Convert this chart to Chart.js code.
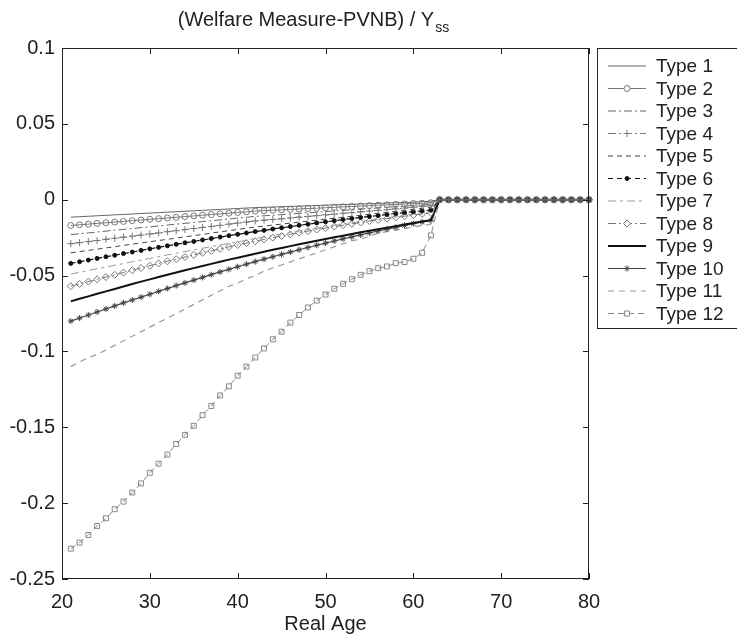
<!DOCTYPE html>
<html>
<head>
<meta charset="utf-8">
<script src="https://cdn.jsdelivr.net/npm/chart.js@4.4.0/dist/chart.umd.min.js"></script>
<style>
  html, body { margin: 0; padding: 0; background: #fff; }
</style>
</head>
<body>
<canvas id="welfareChart" width="737" height="636"></canvas>
<script>
// Real age, one point per year
const ages = [21,22,23,24,25,26,27,28,29,30,
              31,32,33,34,35,36,37,38,39,40,
              41,42,43,44,45,46,47,48,49,50,
              51,52,53,54,55,56,57,58,59,60,
              61,62,63,64,65,66,67,68,69,70,
              71,72,73,74,75,76,77,78,79,80];

const xTicks = [20, 30, 40, 50, 60, 70, 80];
const yTicks = [-0.25, -0.2, -0.15, -0.1, -0.05, 0, 0.05, 0.1];
const yTickLabels = ['-0.25', '-0.2', '-0.15', '-0.1', '-0.05', '0', '0.05', '0.1'];

const typeNames = ['Type 1','Type 2','Type 3','Type 4','Type 5','Type 6',
                   'Type 7','Type 8','Type 9','Type 10','Type 11','Type 12'];

// (Welfare Measure - PVNB) / Yss
const type1 = [-0.0115,-0.0112,-0.0109,-0.0106,-0.0103,-0.0100,-0.0097,-0.0094,-0.0091,-0.0088,
               -0.0085,-0.0082,-0.0079,-0.0076,-0.0073,-0.0070,-0.0067,-0.0064,-0.0061,-0.0058,
               -0.0055,-0.0052,-0.0050,-0.0048,-0.0046,-0.0044,-0.0042,-0.0040,-0.0038,-0.0036,
               -0.0034,-0.0032,-0.0030,-0.0028,-0.0026,-0.0024,-0.0022,-0.0020,-0.0018,-0.0016,
               -0.0013,-0.0010,0,0,0,0,0,0,0,0,
               0,0,0,0,0,0,0,0,0,0];
const type2 = [-0.0170,-0.0165,-0.0161,-0.0156,-0.0152,-0.0147,-0.0143,-0.0138,-0.0134,-0.0129,
               -0.0125,-0.0120,-0.0116,-0.0111,-0.0107,-0.0102,-0.0098,-0.0093,-0.0089,-0.0084,
               -0.0080,-0.0075,-0.0072,-0.0069,-0.0067,-0.0064,-0.0061,-0.0058,-0.0056,-0.0053,
               -0.0050,-0.0047,-0.0045,-0.0042,-0.0039,-0.0036,-0.0034,-0.0031,-0.0028,-0.0025,
               -0.0023,-0.0020,0,0,0,0,0,0,0,0,
               0,0,0,0,0,0,0,0,0,0];
const type3 = [-0.0230,-0.0224,-0.0219,-0.0213,-0.0207,-0.0201,-0.0196,-0.0190,-0.0184,-0.0179,
               -0.0173,-0.0167,-0.0161,-0.0156,-0.0150,-0.0144,-0.0139,-0.0133,-0.0127,-0.0121,
               -0.0116,-0.0110,-0.0106,-0.0102,-0.0098,-0.0094,-0.0090,-0.0086,-0.0082,-0.0078,
               -0.0074,-0.0070,-0.0066,-0.0062,-0.0058,-0.0054,-0.0050,-0.0046,-0.0042,-0.0038,
               -0.0034,-0.0030,0,0,0,0,0,0,0,0,
               0,0,0,0,0,0,0,0,0,0];
const type4 = [-0.0290,-0.0283,-0.0276,-0.0269,-0.0261,-0.0254,-0.0247,-0.0240,-0.0233,-0.0226,
               -0.0219,-0.0211,-0.0204,-0.0197,-0.0190,-0.0183,-0.0176,-0.0169,-0.0161,-0.0154,
               -0.0147,-0.0140,-0.0135,-0.0130,-0.0125,-0.0120,-0.0115,-0.0110,-0.0105,-0.0100,
               -0.0095,-0.0090,-0.0085,-0.0080,-0.0075,-0.0070,-0.0065,-0.0060,-0.0055,-0.0050,
               -0.0045,-0.0040,0,0,0,0,0,0,0,0,
               0,0,0,0,0,0,0,0,0,0];
const type5 = [-0.0350,-0.0342,-0.0334,-0.0326,-0.0318,-0.0310,-0.0301,-0.0293,-0.0285,-0.0277,
               -0.0269,-0.0261,-0.0253,-0.0245,-0.0237,-0.0229,-0.0220,-0.0212,-0.0204,-0.0196,
               -0.0188,-0.0180,-0.0174,-0.0167,-0.0161,-0.0154,-0.0148,-0.0141,-0.0135,-0.0128,
               -0.0122,-0.0115,-0.0109,-0.0102,-0.0096,-0.0089,-0.0083,-0.0076,-0.0070,-0.0063,
               -0.0057,-0.0050,0,0,0,0,0,0,0,0,
               0,0,0,0,0,0,0,0,0,0];
const type6 = [-0.0420,-0.0409,-0.0398,-0.0387,-0.0376,-0.0366,-0.0355,-0.0345,-0.0334,-0.0324,
               -0.0314,-0.0304,-0.0294,-0.0284,-0.0275,-0.0265,-0.0256,-0.0246,-0.0237,-0.0228,
               -0.0219,-0.0210,-0.0202,-0.0193,-0.0185,-0.0177,-0.0169,-0.0161,-0.0153,-0.0146,
               -0.0138,-0.0131,-0.0124,-0.0117,-0.0110,-0.0104,-0.0097,-0.0091,-0.0085,-0.0079,
               -0.0073,-0.0068,0,0,0,0,0,0,0,0,
               0,0,0,0,0,0,0,0,0,0];
const type7 = [-0.0490,-0.0478,-0.0467,-0.0455,-0.0444,-0.0432,-0.0421,-0.0409,-0.0398,-0.0387,
               -0.0375,-0.0364,-0.0353,-0.0342,-0.0331,-0.0320,-0.0309,-0.0298,-0.0288,-0.0277,
               -0.0267,-0.0256,-0.0246,-0.0236,-0.0226,-0.0216,-0.0207,-0.0197,-0.0188,-0.0179,
               -0.0170,-0.0161,-0.0152,-0.0144,-0.0136,-0.0127,-0.0119,-0.0111,-0.0103,-0.0095,
               -0.0087,-0.0080,0,0,0,0,0,0,0,0,
               0,0,0,0,0,0,0,0,0,0];
const type8 = [-0.0570,-0.0555,-0.0540,-0.0525,-0.0510,-0.0495,-0.0480,-0.0465,-0.0450,-0.0435,
               -0.0420,-0.0406,-0.0392,-0.0378,-0.0364,-0.0350,-0.0337,-0.0324,-0.0311,-0.0298,
               -0.0286,-0.0274,-0.0262,-0.0250,-0.0239,-0.0228,-0.0217,-0.0207,-0.0197,-0.0187,
               -0.0177,-0.0168,-0.0159,-0.0150,-0.0141,-0.0133,-0.0125,-0.0117,-0.0109,-0.0101,
               -0.0094,-0.0087,0,0,0,0,0,0,0,0,
               0,0,0,0,0,0,0,0,0,0];
const type9 = [-0.0670,-0.0653,-0.0637,-0.0620,-0.0604,-0.0588,-0.0572,-0.0556,-0.0540,-0.0525,
               -0.0510,-0.0495,-0.0480,-0.0465,-0.0451,-0.0437,-0.0423,-0.0409,-0.0395,-0.0382,
               -0.0369,-0.0356,-0.0343,-0.0330,-0.0318,-0.0306,-0.0294,-0.0282,-0.0270,-0.0259,
               -0.0248,-0.0237,-0.0226,-0.0215,-0.0205,-0.0194,-0.0184,-0.0174,-0.0164,-0.0154,
               -0.0144,-0.0135,0,0,0,0,0,0,0,0,
               0,0,0,0,0,0,0,0,0,0];
const type10 = [-0.0800,-0.0780,-0.0760,-0.0740,-0.0720,-0.0700,-0.0680,-0.0661,-0.0642,-0.0623,
                -0.0604,-0.0585,-0.0566,-0.0548,-0.0530,-0.0512,-0.0494,-0.0476,-0.0459,-0.0442,
                -0.0425,-0.0408,-0.0392,-0.0376,-0.0360,-0.0345,-0.0330,-0.0315,-0.0300,-0.0286,
                -0.0272,-0.0258,-0.0245,-0.0232,-0.0219,-0.0206,-0.0194,-0.0182,-0.0170,-0.0158,
                -0.0147,-0.0136,0,0,0,0,0,0,0,0,
                0,0,0,0,0,0,0,0,0,0];
const type11 = [-0.110,-0.107,-0.104,-0.102,-0.099,-0.096,-0.093,-0.090,-0.087,-0.084,
                -0.081,-0.078,-0.075,-0.072,-0.069,-0.066,-0.063,-0.060,-0.057,-0.055,
                -0.052,-0.050,-0.047,-0.045,-0.043,-0.041,-0.039,-0.037,-0.035,-0.033,
                -0.031,-0.029,-0.027,-0.026,-0.024,-0.022,-0.021,-0.020,-0.019,-0.018,
                -0.017,-0.016,0,0,0,0,0,0,0,0,
                0,0,0,0,0,0,0,0,0,0];
const type12 = [-0.230,-0.226,-0.221,-0.215,-0.210,-0.204,-0.199,-0.193,-0.187,-0.180,
                -0.174,-0.168,-0.161,-0.155,-0.149,-0.142,-0.136,-0.129,-0.123,-0.116,
                -0.110,-0.104,-0.098,-0.092,-0.087,-0.081,-0.076,-0.071,-0.0665,-0.0625,
                -0.0587,-0.0554,-0.0524,-0.0495,-0.0471,-0.0451,-0.0440,-0.0418,-0.0411,-0.0389,
                -0.035,-0.0235,0,0,0,0,0,0,0,0,
                0,0,0,0,0,0,0,0,0,0];

const typeValues = [type1, type2, type3, type4, type5, type6,
                    type7, type8, type9, type10, type11, type12];

// line look of each type (MATLAB style greyscale)
const typeStyles = [
  { color: '#666', width: 1,   dash: [],          marker: false,     r: 0,   fill: false },
  { color: '#777', width: 1,   dash: [],          marker: 'circle',  r: 3,   fill: false },
  { color: '#666', width: 1,   dash: [8, 3, 2, 3], marker: false,    r: 0,   fill: false },
  { color: '#777', width: 1,   dash: [8, 3, 2, 3], marker: 'cross',  r: 3.5, fill: false },
  { color: '#444', width: 1,   dash: [5, 4],      marker: false,     r: 0,   fill: false },
  { color: '#111', width: 1.2, dash: [5, 4],      marker: 'circle',  r: 2,   fill: true },
  { color: '#999', width: 1,   dash: [8, 4, 3, 4], marker: false,    r: 0,   fill: false },
  { color: '#777', width: 1,   dash: [8, 3, 2, 3], marker: 'rectRot', r: 3.5, fill: false },
  { color: '#111', width: 2,   dash: [],          marker: false,     r: 0,   fill: false },
  { color: '#444', width: 1.2, dash: [],          marker: 'star',    r: 3,   fill: true },
  { color: '#999', width: 1.2, dash: [6, 5],      marker: false,     r: 0,   fill: false },
  { color: '#888', width: 1,   dash: [6, 4],      marker: 'rect',    r: 3.5, fill: false }
];

const FONT = "'Liberation Sans', Arial, Helvetica, sans-serif";
Chart.defaults.font.family = FONT;
Chart.defaults.color = '#222';

const datasets = typeNames.map(function (name, k) {
  const st = typeStyles[k];
  return {
    label: name,
    data: ages.map(function (a, i) { return { x: a, y: typeValues[k][i] }; }),
    borderColor: st.color,
    borderWidth: st.width,
    borderDash: st.dash,
    backgroundColor: st.color,
    pointStyle: st.marker || 'circle',
    pointRadius: st.r,
    pointBorderColor: st.color,
    pointBackgroundColor: st.fill ? st.color : 'rgba(0,0,0,0)',
    pointBorderWidth: 1,
    tension: 0,
    fill: false,
    clip: 6
  };
});

// box, inward ticks, title with subscript and the boxed legend
const matlabFrame = {
  id: 'matlabFrame',
  afterDraw(chart) {
    const ctx = chart.ctx;
    const a = chart.chartArea;
    const xs = chart.scales.x, ys = chart.scales.y;
    ctx.save();
    ctx.strokeStyle = '#222';
    ctx.lineWidth = 1;
    ctx.setLineDash([]);
    ctx.strokeRect(a.left + 0.5, a.top + 0.5, a.right - a.left - 1, a.bottom - a.top - 1);
    const tl = 6;
    ctx.beginPath();
    xTicks.forEach(function (v) {
      const px = Math.round(xs.getPixelForValue(v)) + 0.5;
      ctx.moveTo(px, a.bottom); ctx.lineTo(px, a.bottom - tl);
      ctx.moveTo(px, a.top); ctx.lineTo(px, a.top + tl);
    });
    yTicks.forEach(function (v) {
      const py = Math.round(ys.getPixelForValue(v)) + 0.5;
      ctx.moveTo(a.left, py); ctx.lineTo(a.left + tl, py);
      ctx.moveTo(a.right, py); ctx.lineTo(a.right - tl, py);
    });
    ctx.stroke();

    // title
    ctx.fillStyle = '#222';
    ctx.textBaseline = 'alphabetic';
    ctx.textAlign = 'left';
    ctx.font = '20px ' + FONT;
    const main = '(Welfare Measure-PVNB) / Y';
    const wMain = ctx.measureText(main).width;
    ctx.font = '14px ' + FONT;
    const wSub = ctx.measureText('ss').width;
    const x0 = 313 - (wMain + wSub) / 2;
    ctx.font = '20px ' + FONT;
    ctx.fillText(main, x0, 26);
    ctx.font = '14px ' + FONT;
    ctx.fillText('ss', x0 + wMain + 1, 32);

    // legend
    const lx = 597, ly = 48, lw = 150, lh = 280;
    ctx.fillStyle = '#fff';
    ctx.fillRect(lx, ly, lw, lh);
    ctx.strokeStyle = '#222';
    ctx.strokeRect(lx + 0.5, ly + 0.5, lw, lh);
    ctx.font = '19px ' + FONT;
    ctx.textBaseline = 'middle';
    typeNames.forEach(function (name, k) {
      const st = typeStyles[k];
      const y = 66 + k * 22.5;
      ctx.strokeStyle = st.color;
      ctx.lineWidth = st.width;
      ctx.setLineDash(st.dash);
      ctx.beginPath();
      ctx.moveTo(608, y); ctx.lineTo(646, y);
      ctx.stroke();
      ctx.setLineDash([]);
      if (st.marker) {
        ctx.lineWidth = 1;
        ctx.fillStyle = st.fill ? st.color : '#fff';
        Chart.helpers.drawPoint(ctx, { pointStyle: st.marker, radius: st.r, rotation: 0, borderWidth: 1 }, 627, y);
      }
      ctx.fillStyle = '#222';
      ctx.fillText(name, 656, y + 1);
    });
    ctx.restore();
  }
};

new Chart(document.getElementById('welfareChart').getContext('2d'), {
  type: 'line',
  data: { datasets: datasets },
  options: {
    responsive: false,
    animation: false,
    devicePixelRatio: 1,
    layout: { padding: { left: 0, top: 48, right: 148, bottom: 0 } },
    plugins: {
      legend: { display: false },
      title: { display: false },
      tooltip: { enabled: false }
    },
    scales: {
      x: {
        type: 'linear',
        min: 20,
        max: 80,
        afterBuildTicks: function (s) { s.ticks = xTicks.map(function (v) { return { value: v }; }); },
        afterFit: function (s) { s.height = 57; },
        grid: { display: false, drawTicks: false },
        border: { display: false },
        ticks: { padding: 11, color: '#222', font: { size: 20 }, maxRotation: 0, autoSkip: false },
        title: { display: true, text: 'Real Age', color: '#222', font: { size: 20 }, padding: { top: 0, bottom: 0 } }
      },
      y: {
        type: 'linear',
        min: -0.25,
        max: 0.1,
        afterBuildTicks: function (s) { s.ticks = yTicks.map(function (v) { return { value: v }; }); },
        afterFit: function (s) { s.width = 62; },
        grid: { display: false, drawTicks: false },
        border: { display: false },
        ticks: {
          padding: 7, color: '#222', font: { size: 20 }, autoSkip: false,
          callback: function (v, i) { return yTickLabels[i]; }
        }
      }
    }
  },
  plugins: [matlabFrame]
});
</script>
</body>
</html>
